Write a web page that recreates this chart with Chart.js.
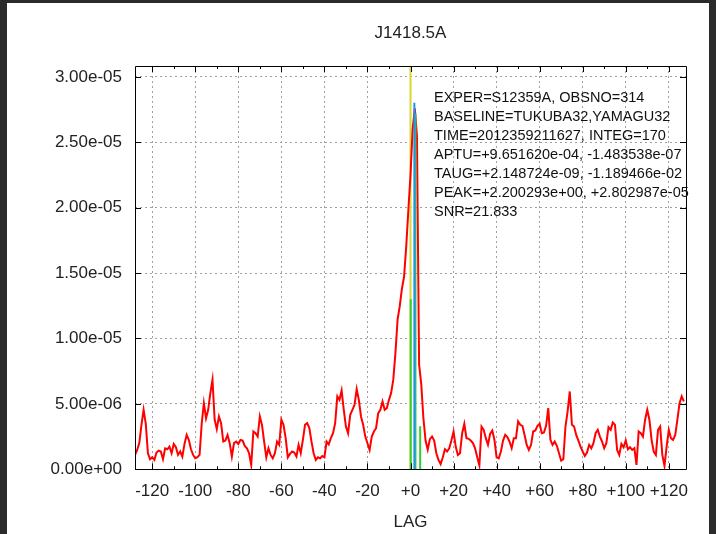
<!DOCTYPE html>
<html>
<head>
<meta charset="utf-8">
<script src="https://cdn.jsdelivr.net/npm/chart.js@4.4.1/dist/chart.umd.min.js"></script>
<style>
html, body { margin: 0; background: #2b2b2b; }
#c { position: absolute; left: 7px; top: 3px; background: #fff; }
</style>
</head>
<body>
<canvas id="c" width="702" height="531"></canvas>
<script>
// correlation amplitude, units of 1e-6, lags -128 .. +127
const lagStart = -128;
const amp = [
  1.10, 1.48, 2.0, 3.4, 4.55, 3.5, 1.23, 0.77, 0.92, 0.72, 1.28, 1.43, 1.36, 0.77, 1.6, 1.53,
  1.74, 1.23, 1.94, 1.69, 1.10, 1.36, 0.97, 1.94, 2.63, 2.25, 1.53, 1.10, 0.84, 0.92, 1.10, 3.5,
  5.06, 3.9, 4.55, 5.83, 6.85, 3.8, 3.07, 4.04, 3.53, 2.12, 2.2, 2.63, 2.0, 0.97, 2.0, 2.12,
  1.94, 2.25, 2.2, 1.79, 1.61, 1.23, 0.33, 2.89, 2.76, 2.5, 4.04, 3.4, 2.12, 0.92, 1.61, 1.10,
  0.84, 1.23, 2.12, 1.87, 3.79, 3.4, 2.38, 0.92, 1.18, 1.36, 1.28, 0.97, 1.87, 1.23, 2.25, 3.4,
  3.53, 3.15, 2.12, 1.23, 0.72, 0.92, 0.84, 1.02, 0.92, 2.12, 1.9, 2.38, 2.76, 3.53, 5.57, 5.31,
  6.03, 4.55, 3.27, 2.76, 4.17, 4.55, 4.93, 6.13, 5.31, 4.04, 3.4, 2.5, 1.99, 1.48, 2.5, 2.89,
  3.14, 4.29, 4.55, 5.19, 4.55, 4.68, 5.31, 5.83, 6.85, 8.9, 11.45, 12.47, 13.8, 14.7, 17.0, 19.8,
  22.5, 26.0, 27.6, 25.5, 8.0, 6.5, 3.9, 2.2, 1.5, 2.3, 2.5, 2.2, 1.23, 0.72, 0.4, 0.92,
  1.53, 1.36, 1.61, 2.2, 2.89, 1.74, 1.10, 1.23, 2.76, 3.48, 2.38, 2.33, 2.2, 2.0, 1.61, 0.92,
  0.3, 3.27, 3.02, 2.38, 1.87, 2.71, 2.97, 2.25, 0.92, 0.84, 1.36, 2.2, 2.63, 2.46, 2.12, 1.61,
  2.38, 2.38, 3.66, 3.4, 3.32, 2.63, 1.87, 1.48, 1.87, 2.89, 2.97, 3.32, 3.48, 2.76, 2.81, 3.32,
  4.68, 2.25, 1.87, 2.12, 1.8, 1.23, 0.66, 0.77, 3.27, 4.42, 5.95, 3.4, 3.27, 2.63, 2.2, 1.74,
  1.36, 1.02, 1.28, 1.87, 1.61, 2.0, 2.76, 3.02, 2.5, 2.12, 1.61, 2.0, 3.22, 3.02, 3.58, 3.4,
  1.48, 1.10, 1.94, 1.69, 2.2, 1.53, 1.69, 1.48, 1.61, 0.33, 2.89, 2.76, 2.5, 3.79, 4.55, 3.79,
  2.25, 1.36, 1.10, 3.02, 3.27, 1.10, 0.26, 1.74, 3.02, 2.38, 2.25, 2.63, 3.79, 5.06, 5.58, 5.19
];

// vertical markers (impulses)
const yellowLag = [0];
const yellowAmp = [30.83];
const blueLag = [1.8];
const blueAmp = [28.03];
const greenLag = [0.1, 2.3, 4.5];
const greenAmp = [13.0, 27.2, 3.3];

const xMin = -128, xMax = 128;
const yMax = 30.83;

const infoLines = [
  'EXPER=S12359A, OBSNO=314',
  'BASELINE=TUKUBA32,YAMAGU32',
  'TIME=2012359211627, INTEG=170',
  'APTU=+9.651620e-04, -1.483538e-07',
  'TAUG=+2.148724e-09, -1.189466e-02',
  'PEAK=+2.200293e+00, +2.802987e-05',
  'SNR=21.833'
];

const redPoints = amp.map((v, i) => ({ x: lagStart + i, y: v }));

function impulses(lags, amps) {
  const pts = [];
  lags.forEach((l, i) => {
    pts.push({ x: l, y: 0 }, { x: l, y: amps[i] }, { x: l, y: null });
  });
  return pts;
}

function sci(v) {
  return (v * 1e-6).toExponential(2).replace(/e([+-])(\d)$/, 'e$10$2');
}

const FONT = "'Liberation Sans', Arial, sans-serif";

const framePlugin = {
  id: 'frame',
  afterDraw(chart) {
    const ctx = chart.ctx;
    const a = chart.chartArea;
    const xs = chart.scales.x, ys = chart.scales.y;
    ctx.save();
    ctx.strokeStyle = '#000';
    ctx.lineWidth = 1;
    ctx.beginPath();
    ctx.rect(Math.round(a.left) + 0.5, Math.round(a.top) + 0.5,
      Math.round(a.right - a.left), Math.round(a.bottom - a.top));
    // inward ticks on x
    xs.ticks.forEach(t => {
      const px = Math.round(xs.getPixelForValue(t.value)) + 0.5;
      ctx.moveTo(px, a.bottom); ctx.lineTo(px, a.bottom - 6);
      ctx.moveTo(px, a.top); ctx.lineTo(px, a.top + 6);
      const m = t.value + 10;
      if (m < xMax) {
        const pm = Math.round(xs.getPixelForValue(m)) + 0.5;
        ctx.moveTo(pm, a.bottom); ctx.lineTo(pm, a.bottom - 3);
        ctx.moveTo(pm, a.top); ctx.lineTo(pm, a.top + 3);
      }
      if (t.value - 10 > xMin && t === xs.ticks[0]) {
        const pm = Math.round(xs.getPixelForValue(t.value - 10)) + 0.5;
        ctx.moveTo(pm, a.bottom); ctx.lineTo(pm, a.bottom - 3);
        ctx.moveTo(pm, a.top); ctx.lineTo(pm, a.top + 3);
      }
    });
    ys.ticks.forEach(t => {
      const py = Math.round(ys.getPixelForValue(t.value)) + 0.5;
      ctx.moveTo(a.left, py); ctx.lineTo(a.left + 6, py);
      ctx.moveTo(a.right, py); ctx.lineTo(a.right - 6, py);
    });
    ctx.stroke();

    ctx.fillStyle = '#111';
    ctx.font = '14.5px ' + FONT;
    ctx.textAlign = 'left';
    ctx.textBaseline = 'middle';
    infoLines.forEach((s, i) => {
      ctx.fillText(s, a.left + 299, a.top + 32.3 + i * 18.9);
    });
    ctx.restore();
  }
};

new Chart(document.getElementById('c'), {
  type: 'line',
  data: {
    datasets: [
      { label: 'blue', data: impulses(blueLag, blueAmp), borderColor: '#1e90ff', borderWidth: 2, order: 0 },
      { label: 'green', data: impulses(greenLag, greenAmp), borderColor: '#33cc33', borderWidth: 2, order: 1 },
      { label: 'amp', data: redPoints, borderColor: '#ff0000', borderWidth: 2, order: 2 },
      { label: 'yellow', data: impulses(yellowLag, yellowAmp), borderColor: '#d8d830', borderWidth: 2, order: 3 }
    ]
  },
  options: {
    responsive: false,
    animation: false,
    devicePixelRatio: 1,
    elements: { point: { radius: 0 }, line: { tension: 0 } },
    spanGaps: false,
    layout: { padding: { left: 0, right: 23, top: 0, bottom: 0 } },
    scales: {
      x: {
        type: 'linear',
        min: xMin,
        max: xMax,
        afterFit: s => { s.height = 64.7; },
        ticks: {
          stepSize: 20,
          includeBounds: false,
          padding: 12,
          maxRotation: 0,
          autoSkip: false,
          color: '#222',
          font: { family: FONT, size: 17 },
          callback: v => (v >= 0 ? '+' + v : String(v))
        },
        grid: { color: '#a0a0a0', drawTicks: false },
        border: { display: false, dash: [2, 3] },
        title: {
          display: true,
          text: 'LAG',
          color: '#222',
          font: { family: FONT, size: 17 },
          padding: { top: 0, bottom: 1 }
        }
      },
      y: {
        type: 'linear',
        min: 0,
        max: yMax,
        afterFit: s => { s.width = 128; },
        ticks: {
          stepSize: 5,
          includeBounds: false,
          padding: 13,
          color: '#222',
          font: { family: FONT, size: 17 },
          callback: v => sci(v)
        },
        grid: { color: '#a0a0a0', drawTicks: false },
        border: { display: false, dash: [2, 3] }
      }
    },
    plugins: {
      legend: { display: false },
      tooltip: { enabled: false },
      title: {
        display: true,
        fullSize: false,
        text: 'J1418.5A',
        color: '#222',
        font: { family: FONT, size: 17, weight: 'normal' },
        padding: { top: 20, bottom: 22.6 }
      }
    }
  },
  plugins: [framePlugin]
});
</script>
</body>
</html>
